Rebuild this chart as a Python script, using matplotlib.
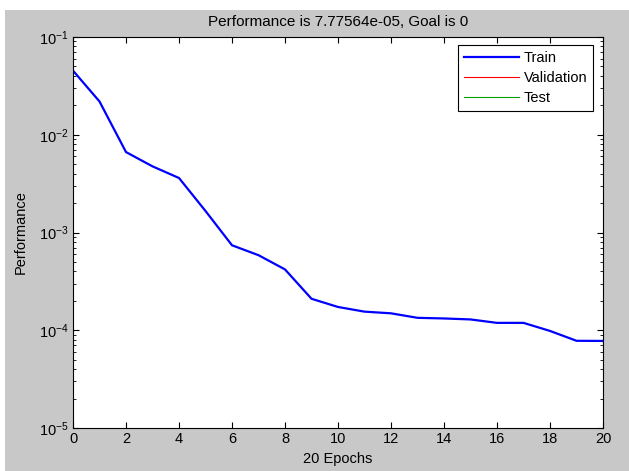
import matplotlib.pyplot as plt
from matplotlib.patches import Rectangle

plt.rcParams['font.family'] = ['Liberation Sans', 'DejaVu Sans']
plt.rcParams['font.size'] = 10.5

# Training performance per epoch
epochs = list(range(21))
train_perf = [0.0453, 0.0219, 0.00665, 0.00475, 0.00361, 0.00166, 0.00074,
              0.000586, 0.000419, 0.00021, 0.000173, 0.000155, 0.000149,
              0.000134, 0.000132, 0.000129, 0.000119, 0.000119, 0.0000984,
              0.000078, 0.0000777564]
x_ticks = list(range(0, 21, 2))

fig = plt.figure(figsize=(6.29, 4.71), dpi=100, facecolor='white')
# gray MATLAB-style figure background (white strip on top/left like the screenshot)
fig.patches.append(Rectangle((5 / 629, 0), 1, 1 - 10 / 471, transform=fig.transFigure,
                             facecolor='#c8c8c8', edgecolor='none', zorder=-10))

ax = fig.add_axes([73 / 629, 43 / 471, 530 / 629, 391 / 471])
ax.plot(epochs, train_perf, color='#0000ff', linewidth=1.6, label='Train')
ax.plot([], [], color='#ff0000', linewidth=0.8, label='Validation')
ax.plot([], [], color='#00a000', linewidth=0.8, label='Test')

ax.set_yscale('log')
ax.set_xlim(0, 20)
ax.set_ylim(1e-5, 1e-1)
ax.set_xticks(x_ticks)
ax.tick_params(which='both', direction='in', top=True, right=True, pad=3)
ax.tick_params(which='major', length=4)
ax.tick_params(which='minor', length=2.5)
for s in ax.spines.values():
    s.set_linewidth(0.8)

ax.set_title('Performance is 7.77564e-05, Goal is 0', pad=8, fontsize=11)
ax.set_xlabel('20 Epochs', labelpad=4)
ax.set_ylabel('Performance', labelpad=8)

leg = ax.legend(loc='upper right', fancybox=False, framealpha=1, edgecolor='black',
                borderpad=0.4, handlelength=3.8, handletextpad=0.3, labelspacing=0.4,
                fontsize=10.5, bbox_to_anchor=(0.995, 0.997))
leg.get_frame().set_linewidth(0.8)

fig.savefig('out.png', dpi=100, facecolor=fig.get_facecolor())
